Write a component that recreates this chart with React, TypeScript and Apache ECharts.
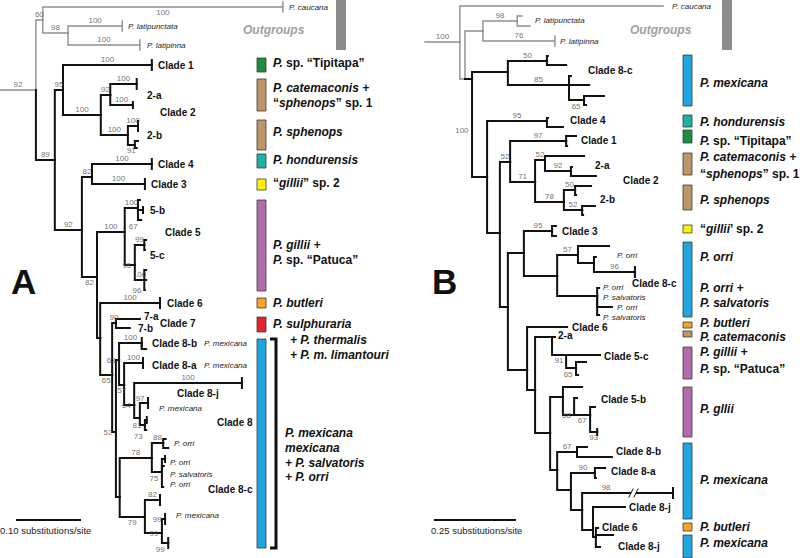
import React, { useEffect, useRef } from "react";
import * as echarts from "echarts";

// Node tuple: [id, parent, depth (substitutions/site from stub start), row, support, support placement, tip tick]
type TNode = [string, string | null, number, number, string?, string?, number?];

const TREE_A: TNode[] = [
  ["A0", null, 0, 90],
  ["Ar", "A0", 0.057, 90, "92", "a"],
  ["Ao", "Ar", 0.068, 20, "60", "a"],
  ["Acau", "Ao", 0.449, 7, "100", "b", 1],
  ["A98", "Ao", 0.108, 33, "98", "a"],
  ["Alpt", "A98", 0.194, 26, "100", "a", 1],
  ["Alpn", "A98", 0.222, 45, "100", "a", 1],
  ["A89", "Ar", 0.087, 160, "89", "a"],
  ["A95", "A89", 0.1, 90, "95", "a"],
  ["Ac1", "A95", 0.241, 65, "100", "a", 1],
  ["Ac2", "A95", 0.16, 115, "100", "a"],
  ["A2a", "Ac2", 0.175, 95, "92", "a"],
  ["A2a1", "A2a", 0.217, 84, "100", "a", 1],
  ["A2a2", "A2a", 0.211, 105, "100", "a", 2],
  ["A2b", "Ac2", 0.203, 135, "100", "a"],
  ["A2b1", "A2b", 0.219, 126, "100", "a", 1],
  ["A2b2", "A2b", 0.214, 145, "91", "b"],
  ["A2b2a", "A2b2", 0.219, 141],
  ["A2b2b", "A2b2", 0.217, 148],
  ["A92", "A89", 0.13, 230, "92", "a"],
  ["A82", "A92", 0.146, 177, "82", "a"],
  ["Ac4", "A82", 0.241, 164, "100", "a", 1],
  ["Ac3", "A82", 0.23, 184, "100", "a", 1],
  ["A82b", "A92", 0.154, 277, "82", "b"],
  ["Ac5", "A82b", 0.198, 232, "100", "a"],
  ["A5b", "Ac5", 0.219, 208, "100", "a"],
  ["A5b1", "A5b", 0.222, 200],
  ["A5b2", "A5b", 0.227, 210, "", "", 2],
  ["A5b3", "A5b", 0.224, 220, "67", "lb"],
  ["A5c", "Ac5", 0.214, 265, "95", "l"],
  ["A5c1", "A5c", 0.229, 245, "99", "a"],
  ["A5c1a", "A5c1", 0.232, 240],
  ["A5c1b", "A5c1", 0.23, 250],
  ["A5c2", "A5c", 0.229, 280, "100", "a"],
  ["A5c2a", "A5c2", 0.232, 270],
  ["A5c2c", "A5c2", 0.232, 280],
  ["A5c2b", "A5c2", 0.23, 290, "96", "l"],
  ["AD", "A82b", 0.159, 338],
  ["Ac6", "AD", 0.254, 303, "100", "a", 1],
  ["AE", "AD", 0.178, 375, "65", "b"],
  ["Ac7", "AE", 0.184, 323, "90", "a"],
  ["A7a", "Ac7", 0.222, 319],
  ["A7b", "Ac7", 0.206, 328],
  ["AF", "AE", 0.184, 432, "52", "l"],
  ["AG", "AF", 0.189, 360, "63", "l"],
  ["A8b", "AG", 0.225, 343, "100", "a", 1],
  ["A8b1", "A8b", 0.232, 349],
  ["AH", "AG", 0.197, 385, "57", "b"],
  ["A8a", "AH", 0.227, 363, "100", "a", 1],
  ["AI", "AH", 0.213, 405, "64", "l"],
  ["A8j", "AI", 0.384, 383, "100", "a", 1],
  ["AJ", "AI", 0.222, 418],
  ["A97", "AJ", 0.235, 403, "97", "la", 1],
  ["A81", "AJ", 0.23, 425, "81", "l"],
  ["A81a", "A81", 0.233, 420, "", "", 2],
  ["A81b", "A81", 0.232, 430, "73", "lb"],
  ["A8c", "AF", 0.19, 497],
  ["A78", "A8c", 0.241, 458, "78", "a"],
  ["A88", "A78", 0.259, 443, "88", "a"],
  ["A88a", "A88", 0.263, 439],
  ["A88b", "A88", 0.267, 448],
  ["A75", "A78", 0.257, 472, "75", "lb"],
  ["A75a", "A75", 0.262, 459, "", "", 2],
  ["A75b", "A75", 0.26, 466],
  ["A75c", "A75", 0.259, 487],
  ["A79", "A8c", 0.23, 517, "79", "b"],
  ["A82c", "A79", 0.254, 500, "82", "a", 1],
  ["A99", "A79", 0.257, 533, "99", "l"],
  ["A99a", "A99", 0.262, 519, "99", "l", 1],
  ["A99b", "A99", 0.267, 543, "99", "lb", 1],
];

const TREE_B: TNode[] = [
  ["B0", null, 0, 42],
  ["Br", "B0", 0.109, 42, "100", "a"],
  ["Bcau", "Br", 0.744, 6],
  ["Bn", "Br", 0.125, 79],
  ["Bp", "Bn", 0.181, 31],
  ["Blpt", "Bp", 0.288, 21, "98", "a"],
  ["Blpt1", "Blpt", 0.303, 16],
  ["Blpt2", "Blpt", 0.328, 26],
  ["Blpn", "Bp", 0.406, 41, "76", "a", 1],
  ["BI", "Bn", 0.147, 79, "100", "v"],
  ["B8c", "BI", 0.259, 72],
  ["B8c1", "B8c", 0.381, 61, "50", "a"],
  ["B8c1a", "B8c1", 0.384, 56],
  ["B8c1b", "B8c1", 0.441, 65],
  ["B8c2", "B8c", 0.45, 85, "85", "a"],
  ["B8c2a", "B8c2", 0.456, 76],
  ["B8c2b", "B8c2", 0.513, 85],
  ["B8c2c", "B8c2", 0.497, 100, "65", "lb"],
  ["B8c2c1", "B8c2c", 0.559, 96],
  ["B8c2c2", "B8c2c", 0.503, 105],
  ["BJ", "BI", 0.194, 177],
  ["Bc4", "BJ", 0.381, 121, "95", "a"],
  ["Bc4a", "Bc4", 0.384, 118],
  ["Bc4b", "Bc4", 0.431, 127],
  ["BK", "BJ", 0.234, 233],
  ["BL", "BK", 0.266, 162, "52", "a"],
  ["Bc1", "BL", 0.441, 141, "97", "a"],
  ["Bc1a", "Bc1", 0.472, 136],
  ["Bc1b", "Bc1", 0.444, 146],
  ["Bc2", "BL", 0.344, 182, "71", "a"],
  ["B2a", "Bc2", 0.375, 160, "52", "a"],
  ["B2a1", "B2a", 0.497, 156],
  ["B2a2", "B2a", 0.456, 171, "92", "a"],
  ["B2a2a", "B2a2", 0.459, 167],
  ["B2a2b", "B2a2", 0.534, 176],
  ["B2b", "Bc2", 0.434, 202, "78", "a"],
  ["B2b1", "B2b", 0.469, 190, "50", "a"],
  ["B2b1a", "B2b1", 0.519, 186],
  ["B2b1b", "B2b1", 0.472, 195],
  ["B2b2", "B2b", 0.491, 210, "52", "a"],
  ["B2b2a", "B2b2", 0.531, 206],
  ["B2b2b", "B2b2", 0.494, 215],
  ["BM", "BK", 0.259, 307],
  ["BQ", "BM", 0.309, 253],
  ["Bc3", "BQ", 0.397, 231, "95", "a"],
  ["Bc3a", "Bc3", 0.409, 226],
  ["Bc3b", "Bc3", 0.409, 236],
  ["BS", "BQ", 0.413, 276],
  ["BS1", "BS", 0.478, 255, "57", "a"],
  ["BS1a", "BS1", 0.575, 246],
  ["BS1b", "BS1", 0.528, 263],
  ["BS1b1", "BS1b", 0.534, 257],
  ["BS1b2", "BS1b", 0.656, 272, "96", "a", 1],
  ["BS2", "BS", 0.538, 296],
  ["BS2a", "BS2", 0.544, 288],
  ["BS2b", "BS2", 0.584, 307],
  ["BS2c", "BS2", 0.544, 315],
  ["BO", "BM", 0.319, 370],
  ["Bc6", "BO", 0.444, 327],
  ["BT", "BO", 0.344, 390],
  ["BU", "BT", 0.397, 337],
  ["B2a_", "BU", 0.406, 337],
  ["BV", "BU", 0.441, 355, "91", "b"],
  ["B5c", "BV", 0.547, 355],
  ["BV2", "BV", 0.472, 368, "65", "lb"],
  ["BV2a", "BV2", 0.503, 362],
  ["BV2b", "BV2", 0.478, 375],
  ["BW", "BT", 0.391, 433],
  ["BX", "BW", 0.431, 397],
  ["BXa", "BX", 0.491, 387],
  ["BX58", "BX", 0.466, 415, "58", "l"],
  ["BX58a", "BX58", 0.475, 398],
  ["BX67", "BX58", 0.516, 415, "67", "b"],
  ["BX67a", "BX67", 0.531, 407],
  ["BX93", "BX67", 0.538, 432, "93", "b", 2],
  ["BY", "BW", 0.413, 470],
  ["B8b", "BY", 0.475, 452, "67", "a"],
  ["B8ba", "B8b", 0.506, 447],
  ["B8bb", "B8b", 0.584, 457],
  ["BZ", "BY", 0.456, 490],
  ["B8a", "BZ", 0.531, 473, "90", "a"],
  ["B8aa", "B8a", 0.563, 468],
  ["B8ab", "B8a", 0.534, 478],
  ["BAA", "BZ", 0.491, 510],
  ["B8jl", "BAA", 0.775, 493, "98", "a", 1],
  ["BBB", "BAA", 0.525, 530],
  ["B8j", "BBB", 0.625, 507],
  ["BCC", "BBB", 0.534, 537],
  ["BCCa", "BCC", 0.541, 528],
  ["BCCb", "BCC", 0.588, 535],
  ["BCCc", "BCC", 0.547, 547],
];

const OUTGROUP_A = ["Ar", "Ao", "Acau", "A98", "Alpt", "Alpn"];
const OUTGROUP_B = ["Br", "Bcau", "Bn", "Bp", "Blpt", "Blpt1", "Blpt2", "Blpn"];
// broken (shortened) branch in tree B: gap between these depths
const BREAK_B: Record<string, [number, number]> = { B8jl: [0.641, 0.6625] };
const SLASHES_B: [number, number, number, number][] = [
  [0.6375, 497, 0.65, 489],
  [0.6531, 497, 0.6656, 489],
];

// scale bars: [start depth, length, row]
const SCALE_A: [number, number, number] = [0.027, 0.1, 520];
const SCALE_B: [number, number, number] = [0.031, 0.25, 520];

// [text, x, y, kind]
const LABELS_A: [string, number, number, string][] = [
  ["P. caucana", 289, 7, "i"],
  ["P. latipunctata", 128, 26, "i"],
  ["P. latipinna", 147, 45, "i"],
  ["Clade 1", 158, 65, "b"],
  ["2-a", 147, 95, "b"],
  ["Clade 2", 160, 112, "b"],
  ["2-b", 147, 135, "b"],
  ["Clade 4", 158, 164, "b"],
  ["Clade 3", 151, 184, "b"],
  ["5-b", 150, 210, "b"],
  ["Clade 5", 165, 232, "b"],
  ["5-c", 150, 255, "b"],
  ["Clade 6", 167, 303, "b"],
  ["7-a", 144, 316, "b"],
  ["7-b", 138, 328, "b"],
  ["Clade 7", 160, 323, "b"],
  ["Clade 8-b", 152, 343, "b"],
  ["P. mexicana", 204, 343, "i"],
  ["Clade 8-a", 152, 365, "b"],
  ["P. mexicana", 204, 365, "i"],
  ["Clade 8-j", 177, 393, "b"],
  ["P. mexicana", 159, 408, "i"],
  ["Clade 8", 217, 422, "b"],
  ["P. orri", 174, 443, "i"],
  ["P. orri", 170, 462, "i"],
  ["P. salvatoris", 170, 474, "i"],
  ["P. orri", 170, 484, "i"],
  ["Clade 8-c", 208, 489, "b"],
  ["P. mexicana", 176, 515, "i"],
];

const LABELS_B: [string, number, number, string][] = [
  ["P. caucana", 672, 6, "i"],
  ["P. latipunctata", 535, 20, "i"],
  ["P. latipinna", 560, 41, "i"],
  ["Clade 8-c", 588, 70, "b"],
  ["Clade 4", 570, 120, "b"],
  ["Clade 1", 581, 140, "b"],
  ["2-a", 595, 165, "b"],
  ["Clade 2", 623, 180, "b"],
  ["2-b", 600, 199, "b"],
  ["Clade 3", 562, 231, "b"],
  ["P. orri", 617, 255, "i"],
  ["Clade 8-c", 632, 283, "b"],
  ["P. orri", 603, 287, "i"],
  ["P. salvatoris", 603, 297, "i"],
  ["P. orri", 617, 307, "i"],
  ["P. salvatoris", 603, 317, "i"],
  ["Clade 6", 572, 327, "b"],
  ["2-a", 558, 335, "b"],
  ["Clade 5-c", 604, 356, "b"],
  ["Clade 5-b", 601, 399, "b"],
  ["Clade 8-b", 616, 451, "b"],
  ["Clade 8-a", 611, 471, "b"],
  ["Clade 8-j", 629, 507, "b"],
  ["Clade 6", 602, 527, "b"],
  ["Clade 8-j", 618, 546, "b"],
];

const C_GREEN = "#1f8c3f";
const C_TAN = "#bf9668";
const C_TEAL = "#1fb0a6";
const C_YELLOW = "#fff200";
const C_PURPLE = "#b26cad";
const C_ORANGE = "#f6a623";
const C_RED = "#e2242b";
const C_BLUE = "#1ea6e0";

// [colour, top row, bottom row]
const BARS_A: [string, number, number][] = [
  [C_GREEN, 58, 72],
  [C_TAN, 79, 111],
  [C_TAN, 120, 150],
  [C_TEAL, 154, 168],
  [C_YELLOW, 179, 190],
  [C_PURPLE, 200, 291],
  [C_ORANGE, 298, 308],
  [C_RED, 317, 332],
  [C_BLUE, 339, 548],
];
const BARS_B: [string, number, number][] = [
  [C_BLUE, 55, 106],
  [C_TEAL, 115, 127],
  [C_GREEN, 130, 143],
  [C_TAN, 153, 175],
  [C_TAN, 185, 210],
  [C_YELLOW, 225, 233],
  [C_BLUE, 242, 317],
  [C_ORANGE, 322, 328],
  [C_TAN, 331, 337],
  [C_PURPLE, 347, 379],
  [C_PURPLE, 387, 437],
  [C_BLUE, 443, 519],
  [C_ORANGE, 523, 531],
  [C_BLUE, 535, 558],
];

const LEGEND_A: [string, number, number][] = [
  ["{i|P.}{b| sp. “Tipitapa”}", 273, 63],
  ["{i|P. catemaconis +}", 273, 88],
  ["{b|“}{i|sphenops}{b|” sp. 1}", 273, 103],
  ["{i|P. sphenops}", 273, 132],
  ["{i|P. hondurensis}", 273, 160],
  ["{b|“}{i|gillii}{b|” sp. 2}", 273, 183],
  ["{i|P. gillii +}", 273, 245],
  ["{i|P.}{b| sp. “Patuca”}", 273, 260],
  ["{i|P. butleri}", 273, 303],
  ["{i|P. sulphuraria}", 273, 324],
  ["{i|+ P. thermalis}", 290, 340],
  ["{i|+ P. m. limantouri}", 290, 355],
  ["{i|P. mexicana}", 285, 433],
  ["{i|mexicana}", 285, 448],
  ["{i|+ P. salvatoris}", 285, 463],
  ["{i|+ P. orri}", 285, 477],
];
const LEGEND_B: [string, number, number][] = [
  ["{i|P. mexicana}", 700, 83],
  ["{i|P. hondurensis}", 700, 122],
  ["{i|P.}{b| sp. “Tipitapa”}", 700, 141],
  ["{i|P. catemaconis +}", 700, 157],
  ["{b|“}{i|sphenops}{b|” sp. 1}", 700, 174],
  ["{i|P. sphenops}", 700, 200],
  ["{b|“}{i|gillii}{b|’ sp. 2}", 700, 229],
  ["{i|P. orri}", 700, 257],
  ["{i|P. orri +}", 700, 288],
  ["{i|P. salvatoris}", 700, 303],
  ["{i|P. butleri}", 700, 323],
  ["{i|P. catemaconis}", 700, 337],
  ["{i|P. gillii +}", 700, 352],
  ["{i|P.}{b| sp. “Patuca”}", 700, 369],
  ["{i|P. gllii}", 700, 409],
  ["{i|P. mexicana}", 700, 480],
  ["{i|P. butleri}", 700, 527],
  ["{i|P. mexicana}", 700, 543],
];

const FONT = "'Liberation Sans', Arial, Helvetica, sans-serif";
const BLACK = "#111111";
const GREY = "#8e8e8e";

function buildTree(nodes: TNode[], outgroup: string[], breaks: Record<string, [number, number]>) {
  const map = new Map<string, TNode>();
  nodes.forEach((n) => map.set(n[0], n));
  const kids = new Map<string, TNode[]>();
  nodes.forEach((n) => {
    if (n[1]) {
      if (!kids.has(n[1])) kids.set(n[1], []);
      kids.get(n[1])!.push(n);
    }
  });
  const lines: any[] = [];
  const labels: any[] = [];
  nodes.forEach((n) => {
    const [id, parent, x, y, sup, pos, tick] = n;
    if (!parent) return;
    const p = map.get(parent)!;
    const grey = outgroup.includes(id);
    const ls = { color: grey ? GREY : BLACK, width: grey ? 1.4 : 2 };
    const brk = breaks[id];
    if (brk) {
      lines.push({ coords: [[p[2], p[3]], [p[2], y], [brk[0], y]], lineStyle: ls });
      lines.push({ coords: [[brk[1], y], [x, y]], lineStyle: ls });
    } else {
      lines.push({ coords: [[p[2], p[3]], [p[2], y], [x, y]], lineStyle: ls });
    }
    if (tick) {
      const h = tick === 1 ? 5 : 3;
      lines.push({ coords: [[x, y - h], [x, y + h]], lineStyle: ls });
    }
    if (sup) {
      const endX = brk ? brk[0] : x;
      const mid = (p[2] + endX) / 2;
      let value: number[] = [mid, y];
      let label: any = { position: "top", distance: 1 };
      if (pos === "b") label = { position: "bottom", distance: 1 };
      else if (pos === "l") { value = [x, y]; label = { position: "left", distance: 3 }; }
      else if (pos === "la") { value = [x, y]; label = { position: "left", distance: 3, offset: [0, -5] }; }
      else if (pos === "lb") { value = [x, y]; label = { position: "left", distance: 3, offset: [0, 6] }; }
      else if (pos === "v") {
        const ys = (kids.get(id) || []).map((k) => k[3]);
        value = [x, (Math.min(...ys) + Math.max(...ys)) / 2 + 6];
        label = { position: "left", distance: 3 };
      }
      labels.push({ value, label: { show: true, formatter: sup, ...label } });
    }
  });
  return { lines, labels };
}

function textEl(t: string, x: number, y: number, kind: string) {
  const italic = kind === "i";
  return {
    type: "text",
    x,
    y,
    silent: true,
    style: {
      text: t,
      fill: italic ? "#222" : "#111",
      fontFamily: FONT,
      fontSize: italic ? 8 : 10,
      fontStyle: italic ? "italic" : "normal",
      fontWeight: italic ? "normal" : "bold",
      align: "left",
      verticalAlign: "middle",
    },
  };
}

const RICH = {
  i: { fontFamily: FONT, fontSize: 12, fontWeight: "bold", fontStyle: "italic", fill: "#111" },
  b: { fontFamily: FONT, fontSize: 12, fontWeight: "bold", fontStyle: "normal", fill: "#111" },
};

function legendEl(t: string, x: number, y: number) {
  return {
    type: "text",
    x,
    y,
    silent: true,
    style: { text: t, rich: RICH, align: "left", verticalAlign: "middle", fill: "#111", fontFamily: FONT, fontSize: 12, lineHeight: 12 },
  };
}

function barEl(c: string, x: number, y0: number, y1: number) {
  return {
    type: "rect",
    silent: true,
    shape: { x, y: y0, width: 9, height: y1 - y0 },
    style: { fill: c, stroke: "#3a3a3a", lineWidth: 0.8 },
  };
}

export default function App() {
  const ref = useRef<HTMLDivElement>(null);
  useEffect(() => {
    if (!ref.current) return;
    const chart = echarts.init(ref.current, undefined, { renderer: "svg" });
    const ta = buildTree(TREE_A, OUTGROUP_A, {});
    const tb = buildTree(TREE_B, OUTGROUP_B, BREAK_B);
    const scaleLines = (s: [number, number, number]) => [
      { coords: [[s[0], s[2]], [s[0] + s[1], s[2]]], lineStyle: { color: BLACK, width: 2 } },
    ];
    const slashes = SLASHES_B.map((s) => ({
      coords: [[s[0], s[1]], [s[2], s[3]]],
      lineStyle: { color: BLACK, width: 1 },
    }));
    const labelStyle = { fontSize: 8, color: "#4a4a4a", fontFamily: FONT };
    const graphics: any[] = [];
    graphics.push({ type: "rect", silent: true, shape: { x: 336, y: 0, width: 10, height: 50 }, style: { fill: "#8c8c8c" } });
    graphics.push({ type: "rect", silent: true, shape: { x: 722, y: 0, width: 10, height: 50 }, style: { fill: "#8c8c8c" } });
    const og = (x: number) => ({
      type: "text", x, y: 30, silent: true,
      style: { text: "Outgroups", fill: "#a0a0a0", fontFamily: FONT, fontSize: 12, fontWeight: "bold", fontStyle: "italic", verticalAlign: "middle" },
    });
    graphics.push(og(243), og(630));
    BARS_A.forEach((b) => graphics.push(barEl(b[0], 257, b[1], b[2])));
    BARS_B.forEach((b) => graphics.push(barEl(b[0], 683, b[1], b[2])));
    LEGEND_A.forEach((l) => graphics.push(legendEl(l[0], l[1], l[2])));
    LEGEND_B.forEach((l) => graphics.push(legendEl(l[0], l[1], l[2])));
    LABELS_A.forEach((l) => graphics.push(textEl(l[0], l[1], l[2], l[3])));
    LABELS_B.forEach((l) => graphics.push(textEl(l[0], l[1], l[2], l[3])));
    graphics.push({
      type: "polyline", silent: true,
      shape: { points: [[270, 339], [276, 339], [276, 548], [270, 548]] },
      style: { stroke: "#111", lineWidth: 3, fill: null },
    });
    const big = (t: string, x: number) => ({
      type: "text", x, y: 281, silent: true,
      style: { text: t, fill: "#111", fontFamily: FONT, fontSize: 35, fontWeight: "bold", verticalAlign: "middle" },
    });
    graphics.push(big("A", 11), big("B", 432));
    const sc = (t: string, x: number) => ({
      type: "text", x, y: 530, silent: true,
      style: { text: t, fill: "#222", fontFamily: FONT, fontSize: 9.5, verticalAlign: "middle" },
    });
    graphics.push(sc("0.10 substitutions/site", 0), sc("0.25 substitutions/site", 431));

    const lineSeries = (data: any[], i: number) => ({
      type: "lines",
      coordinateSystem: "cartesian2d",
      xAxisIndex: i,
      yAxisIndex: i,
      polyline: true,
      silent: true,
      lineStyle: { cap: "square", join: "miter", opacity: 1 },
      data,
    });
    const labelSeries = (data: any[], i: number) => ({
      type: "scatter",
      xAxisIndex: i,
      yAxisIndex: i,
      silent: true,
      symbolSize: 1,
      itemStyle: { color: "rgba(0,0,0,0)" },
      label: { show: true, ...labelStyle },
      data,
    });

    chart.setOption({
      animation: false,
      backgroundColor: "#ffffff",
      grid: [
        { left: 0, top: 0, width: 400, height: 558 },
        { left: 400, top: 0, width: 400, height: 558 },
      ],
      xAxis: [
        { type: "value", gridIndex: 0, min: 0, max: 400 / 630, show: false },
        { type: "value", gridIndex: 1, min: -25 / 320, max: 375 / 320, show: false },
      ],
      yAxis: [
        { type: "value", gridIndex: 0, min: 0, max: 558, inverse: true, show: false },
        { type: "value", gridIndex: 1, min: 0, max: 558, inverse: true, show: false },
      ],
      series: [
        lineSeries([...ta.lines, ...scaleLines(SCALE_A)], 0),
        lineSeries([...tb.lines, ...scaleLines(SCALE_B), ...slashes], 1),
        labelSeries(ta.labels, 0),
        labelSeries(tb.labels, 1),
      ],
      graphic: graphics,
    });
    return () => chart.dispose();
  }, []);
  return (
    <div
      ref={ref}
      style={{ position: "absolute", left: 0, top: 0, width: 800, height: 558, background: "#fff" }}
    />
  );
}
